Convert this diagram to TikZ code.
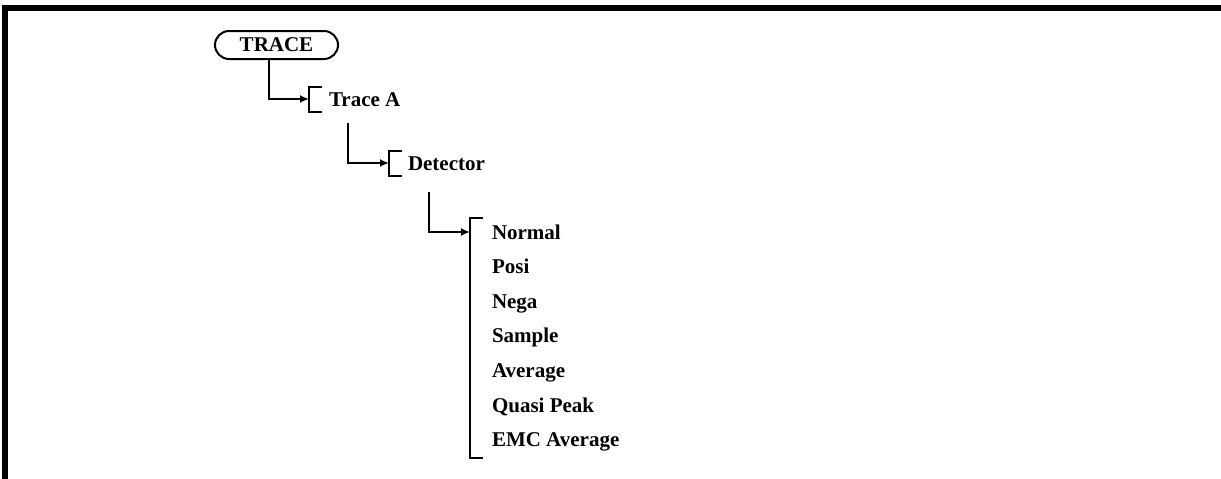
\documentclass[tikz,border=0pt]{standalone}
\usepackage{fontspec}
\setmainfont{Liberation Serif}
\usetikzlibrary{arrows.meta}

\begin{document}
\begin{tikzpicture}[x=1pt, y=-1pt, line width=2pt,
    font=\fontsize{21}{25}\selectfont\bfseries,
    key/.style={draw, rounded corners=14pt, minimum width=123pt,
      minimum height=28pt, inner sep=0pt},
    item/.style={anchor=base west, inner sep=0pt},
    conn/.style={-{Latex[length=9pt,width=8pt]}}]
  \useasboundingbox (0,0) rectangle (1221,479);

  % frame, top and left edges only
  \fill (2,5) rectangle (1221,11);
  \fill (2,5) rectangle (8,479);

  % hard key
  \node[key] (trace) at (276.5,45) {TRACE};

  % level 1
  \coordinate (A0) at (269,59);
  \coordinate (A1) at (309,99);
  \coordinate (A2) at (322,86.5);
  \coordinate (A3) at (322,111.5);
  \node[item] (traceA) at (328,106) {Trace A};
  \draw[conn] (A0) |- (A1);
  \draw (A2) -| (A1) |- (A3);

  % level 2
  \coordinate (B0) at (348,123);
  \coordinate (B1) at (389,163);
  \coordinate (B2) at (402,150.5);
  \coordinate (B3) at (402,175.5);
  \node[item] (detector) at (407,170) {Detector};
  \draw[conn] (B0) |- (B1);
  \draw (B2) -| (B1) |- (B3);

  % level 3, detector modes
  \coordinate (C0) at (429,192);
  \coordinate (C1) at (470,232);
  \coordinate (C2) at (483,218);
  \coordinate (C3) at (483,458);
  \node[item] (normal)  at (491,239)   {Normal};
  \node[item] (posi)    at (491,273.6) {Posi};
  \node[item] (nega)    at (491,308.2) {Nega};
  \node[item] (sample)  at (491,342.8) {Sample};
  \node[item] (average) at (491,377.4) {Average};
  \node[item] (quasi)   at (491,412)   {Quasi Peak};
  \node[item] (emcavg)  at (491,446.6) {EMC Average};
  \draw[conn] (C0) |- (C1);
  \draw (C2) -| (C1) |- (C3);
\end{tikzpicture}
\end{document}
